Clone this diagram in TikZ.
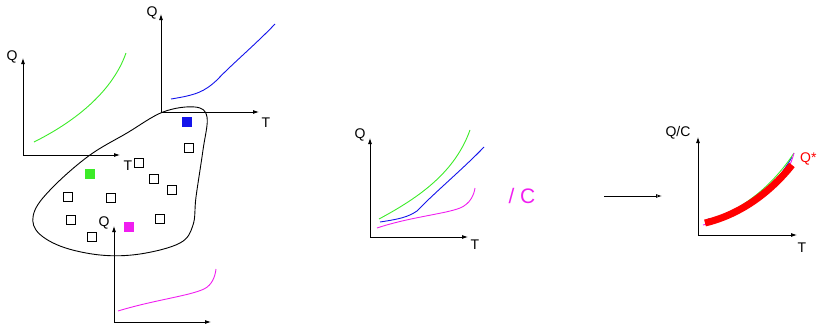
\documentclass[tikz,border=0pt]{standalone}
\usepackage{fontspec}
\setmainfont{Liberation Sans}
\usepackage{tikz}
\usetikzlibrary{calc, positioning, arrows.meta}
\definecolor{qgreen}{RGB}{60,235,40}
\definecolor{qblue}{RGB}{20,20,235}
\definecolor{qmagenta}{RGB}{240,30,240}
\tikzset{
    axis/.style={-{Latex[length=6pt,width=4pt]}, line width=0.8pt},
    lbl/.style={font=\fontsize{14}{14}\selectfont, inner sep=0pt},
    pt/.style={draw, line width=0.7pt, minimum size=9pt, inner sep=0pt},
    fpt/.style={fill=#1, minimum size=10pt, inner sep=0pt},
    qcurve/.style={line width=0.9pt, #1},
}
\begin{document}
\begin{tikzpicture}[x=1pt, y=1pt]
    \useasboundingbox (0,0) rectangle (819,325);

    % Sample space
    \draw[line width=0.9pt] plot[smooth cycle, tension=0.6] coordinates {
        (163,213) (195,218) (207,208) (203,175) (196,128) (193,100) (180,82)
        (140,71) (100,70) (60,79) (36,95) (35,115) (55,140) (90,170) (127,192)};
    \node[pt] (s1) at (189,177) {};
    \node[pt] (s2) at (139,162) {};
    \node[pt] (s3) at (154,146) {};
    \node[pt] (s4) at (172,135) {};
    \node[pt] (s5) at (68,128) {};
    \node[pt] (s6) at (111,127) {};
    \node[pt] (s7) at (71,105) {};
    \node[pt] (s8) at (160,106) {};
    \node[pt] (s9) at (92,88) {};
    \node[fpt=qblue] (sb) at (187,203) {};
    \node[fpt=qgreen] (sg) at (90,151) {};
    \node[fpt=qmagenta] (sm) at (129,98) {};

    % Green sample
    \begin{scope}[shift={(23,170)}]
        \coordinate (og) at (0,0);
        \draw[axis] (og) -- (0,97);
        \draw[axis] (og) -- (97,0);
        \node[lbl] (qg) at (-11,98) {Q};
        \node[lbl] (tg) at (105,-11) {T};
        \draw[qcurve=qgreen] (11,13) .. controls (55,35) and (90,65) .. (103,102);
    \end{scope}

    % Blue sample
    \begin{scope}[shift={(161,213)}]
        \coordinate (ob) at (0,0);
        \draw[axis] (ob) -- (0,98);
        \draw[axis] (ob) -- (98,0);
        \node[lbl] (qb) at (-9,99) {Q};
        \node[lbl] (tb) at (105,-11) {T};
        \draw[qcurve=qblue] (10,13) .. controls (35,17) and (43,20) .. (56,32)
            .. controls (70,47) and (95,68) .. (114,88);
    \end{scope}

    % Magenta sample
    \begin{scope}[shift={(114,3)}]
        \coordinate (om) at (0,0);
        \draw[axis] (om) -- (0,96);
        \draw[axis] (om) -- (97,0);
        \node[lbl] (qm) at (-10,99) {Q};
        \draw[qcurve=qmagenta] (4,11) .. controls (40,22) and (75,26) .. (90,33)
            .. controls (98,37) and (101,45) .. (102,53);
    \end{scope}

    % All curves together
    \begin{scope}[shift={(370,88)}]
        \coordinate (oa) at (0,0);
        \draw[axis] (oa) -- (0,99);
        \draw[axis] (oa) -- (98,0);
        \node[lbl] (qa) at (-10,102) {Q};
        \node[lbl] (ta) at (105,-8) {T};
        \draw[qcurve=qgreen] (9,18) .. controls (50,40) and (85,65) .. (100,107);
        \draw[qcurve=qblue] (10,15) .. controls (30,18) and (38,20) .. (47,26)
            .. controls (62,42) and (95,70) .. (114,90);
        \draw[qcurve=qmagenta] (7,9) .. controls (40,20) and (75,23) .. (90,29)
            .. controls (100,33) and (104,42) .. (105,49);
    \end{scope}
    \node[qmagenta, font=\fontsize{21}{21}\selectfont, inner sep=0pt] (divc) at (522,129) {/ C};

    % Scaled result
    \coordinate (from) at (604,129);
    \coordinate (to) at (662,129);
    \draw[-{Latex[length=6pt,width=4pt, open]}, line width=0.8pt] (from) -- (to);

    \begin{scope}[shift={(698,90)}]
        \coordinate (or) at (0,0);
        \draw[axis] (or) -- (0,98);
        \draw[axis] (or) -- (99,0);
        \node[lbl] (qr) at (-20,102) {Q/C};
        \node[lbl] (tr) at (104,-13) {T};
        \draw[qcurve=qblue] (10,16) .. controls (45,20) and (75,45) .. (94,78);
        \draw[qcurve=qgreen] (10,14) .. controls (45,25) and (75,50) .. (96,82);
        \draw[qcurve=qmagenta] (5,10) .. controls (45,20) and (80,45) .. (90,66)
            .. controls (93,72) and (95,78) .. (96,82);
        \draw[red, line width=7pt] (7,12) .. controls (40,20) and (70,40) .. (94,70);
    \end{scope}
    \node[lbl, red, anchor=west] (qstar) at (800,166) {Q*};
\end{tikzpicture}
\end{document}
